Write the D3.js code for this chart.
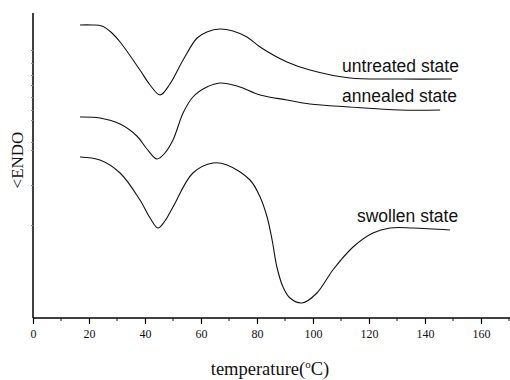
<!DOCTYPE html>
<html>
<head>
<meta charset="utf-8">
<script src="https://cdn.jsdelivr.net/npm/d3@7"></script>
<style>
  body { margin: 0; background: #fff; }
  svg { display: block; }
</style>
</head>
<body>
<div id="chart"></div>
<script>
// DSC traces, temperature (C) vs heat flow (arbitrary units, offset per trace)
const untreatedT = [16.8, 21, 24.6, 27.8, 31.1, 38.2, 41.8, 45.4, 48.9, 53.6, 58.6, 62.1, 66.8, 71.4, 76.4, 81.1, 90.7, 98.9, 113.2, 131, 149.6];
const untreatedY = [293, 293, 292, 286, 276, 248, 233, 223, 234, 258, 280, 286, 289, 287, 281, 271, 256, 248, 240, 239, 239];

const annealedT = [16.8, 23.9, 31.1, 37.1, 40.7, 44.3, 47.1, 50, 53.6, 57.1, 62.1, 66.8, 72.9, 81.1, 90.7, 98.9, 113.2, 131, 145.4];
const annealedY = [201, 200, 194, 182, 169, 159, 165, 178, 205, 221, 231, 235, 232, 223, 218, 214, 211, 208, 208];

const swollenT = [16.8, 23.9, 31.1, 38.2, 41.8, 44.6, 47.1, 50, 57.1, 64.3, 69.3, 77.5, 81.1, 83.6, 85.4, 87.1, 89.3, 91.8, 96.1, 101.4, 107.1, 114.3, 121.4, 127.5, 135.7, 148.9];
const swollenY = [161, 158, 145, 118, 100, 90, 97, 111, 145, 155, 153, 138, 121, 101, 78, 51, 31, 20, 15, 25, 48, 71, 85, 90, 90, 88];

const seriesNames = ["untreated state", "annealed state", "swollen state"];
const xTickValues = [0, 20, 40, 60, 80, 100, 120, 140, 160];
const xMinorTicks = [10, 30, 50, 70, 90, 110, 130, 150, 170];
const yMinorTicks = [93, 133, 168, 176, 198, 208, 221, 233, 243, 255, 268];

const width = 510, height = 380;
const margin = { top: 13, right: 0, bottom: 62, left: 33 };
const serif = "'Liberation Serif', 'Times New Roman', serif";

const svg = d3.select("#chart").append("svg")
  .attr("width", width)
  .attr("height", height);

const x = d3.scaleLinear()
  .domain([0, 170])
  .range([margin.left, margin.left + 170 * 2.8]);

const y = d3.scaleLinear()
  .domain([0, 305])
  .range([height - margin.bottom, margin.top]);

const series = [
  { name: seriesNames[0], T: untreatedT, v: untreatedY, lx: 110.4, ly: 246 },
  { name: seriesNames[1], T: annealedT, v: annealedY, lx: 110.4, ly: 216 },
  { name: seriesNames[2], T: swollenT, v: swollenY, lx: 115.7, ly: 96 }
];

const line = d3.line()
  .x(d => x(d[0]))
  .y(d => y(d[1]))
  .curve(d3.curveCatmullRom.alpha(0.5));

svg.selectAll(".trace")
  .data(series)
  .enter()
  .append("path")
  .attr("class", "trace")
  .attr("d", s => line(s.T.map((t, i) => [t, s.v[i]])))
  .attr("fill", "none")
  .attr("stroke", "#111")
  .attr("stroke-width", 1.1);

svg.selectAll(".lbl")
  .data(series)
  .enter()
  .append("text")
  .attr("class", "lbl")
  .attr("x", s => x(s.lx))
  .attr("y", s => y(s.ly))
  .attr("font-family", "'Liberation Sans', Arial, sans-serif")
  .attr("font-size", 17.5)
  .attr("fill", "#111")
  .text(s => s.name);

// x axis
const xAxis = svg.append("g")
  .attr("transform", `translate(0,${y(0)})`)
  .call(d3.axisBottom(x).tickValues(xTickValues).tickSize(6).tickPadding(5));
xAxis.attr("font-family", serif).attr("font-size", 12);
xAxis.select(".domain").attr("d", `M${x(0)},0H${width}`).attr("stroke-width", 1.5);
xAxis.selectAll("text").attr("fill", "#111");
xAxis.selectAll(".tick line").attr("stroke-width", 1.2);

svg.append("g")
  .attr("transform", `translate(0,${y(0)})`)
  .selectAll("line")
  .data(xMinorTicks)
  .enter()
  .append("line")
  .attr("x1", d => x(d)).attr("x2", d => x(d))
  .attr("y1", 0).attr("y2", 3)
  .attr("stroke", "#111");

// y axis, no labels
const yAxis = svg.append("g")
  .attr("transform", `translate(${x(0)},0)`)
  .call(d3.axisLeft(y).tickValues(yMinorTicks).tickSize(2).tickFormat(""));
yAxis.select(".domain").attr("d", `M0,${y(0)}V${y(305)}`).attr("stroke-width", 1.5);
yAxis.selectAll(".tick line").attr("stroke", "#888");

svg.append("text")
  .attr("transform", `translate(23,160) rotate(-90)`)
  .attr("text-anchor", "middle")
  .attr("font-family", serif)
  .attr("font-size", 17)
  .attr("fill", "#111")
  .text("<ENDO");

const xl = svg.append("text")
  .attr("x", 270)
  .attr("y", 375)
  .attr("text-anchor", "middle")
  .attr("font-family", serif)
  .attr("font-size", 18.5)
  .attr("fill", "#111");
xl.append("tspan").text("temperature(");
xl.append("tspan").attr("font-size", 11).attr("dy", -7).text("o");
xl.append("tspan").attr("dy", 7).text("C)");
</script>
</body>
</html>
